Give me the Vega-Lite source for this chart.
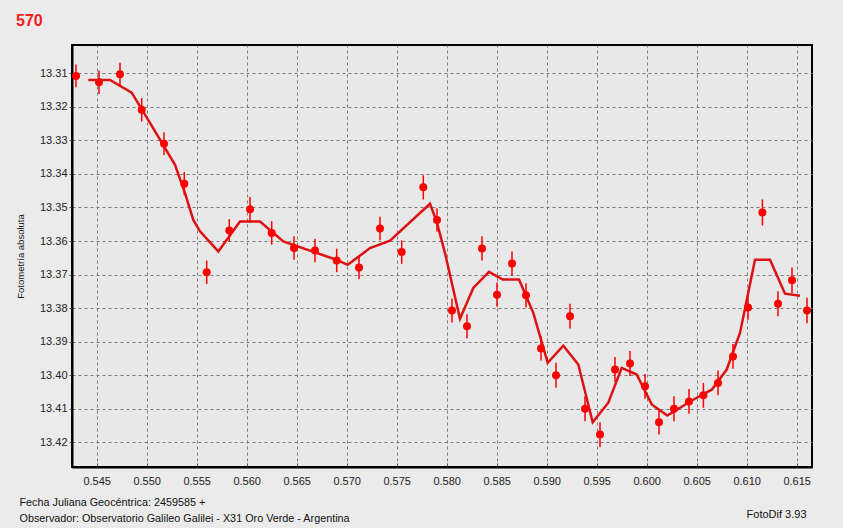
{
  "$schema": "https://vega.github.io/schema/vega-lite/v6.json",
  "autosize": "none",
  "width": 740,
  "height": 422,
  "padding": {"left": 72, "top": 45, "right": 31, "bottom": 61},
  "background": "#ebebeb",
  "config": {
    "font": "Liberation Sans",
    "view": {"stroke": "#000000", "strokeWidth": 2, "fill": "#e8e8e8"}
  },
  "title": {
    "text": "570",
    "anchor": "start",
    "frame": "group",
    "dx": -56,
    "dy": 16,
    "offset": 19,
    "baseline": "alphabetic",
    "fontSize": 16,
    "fontWeight": "bold",
    "color": "#ee1c1c",
    "font": "Liberation Sans"
  },
  "datasets": {
    "obs": [
      {"jd": 0.54293, "mag": 13.3108, "err": 0.0034},
      {"jd": 0.54523, "mag": 13.3127, "err": 0.0035},
      {"jd": 0.54733, "mag": 13.3103, "err": 0.0034},
      {"jd": 0.5495, "mag": 13.3209, "err": 0.0035},
      {"jd": 0.55173, "mag": 13.331, "err": 0.0034},
      {"jd": 0.55376, "mag": 13.3429, "err": 0.0035},
      {"jd": 0.556, "mag": 13.3693, "err": 0.0035},
      {"jd": 0.55826, "mag": 13.3569, "err": 0.0034},
      {"jd": 0.56033, "mag": 13.3505, "err": 0.0036},
      {"jd": 0.5625, "mag": 13.3576, "err": 0.0035},
      {"jd": 0.56473, "mag": 13.3621, "err": 0.0035},
      {"jd": 0.56683, "mag": 13.3628, "err": 0.0035},
      {"jd": 0.569, "mag": 13.3658, "err": 0.0035},
      {"jd": 0.57123, "mag": 13.3679, "err": 0.0034},
      {"jd": 0.57333, "mag": 13.3563, "err": 0.0035},
      {"jd": 0.5755, "mag": 13.3633, "err": 0.0035},
      {"jd": 0.57766, "mag": 13.344, "err": 0.0036},
      {"jd": 0.57903, "mag": 13.3537, "err": 0.0035},
      {"jd": 0.58053, "mag": 13.3807, "err": 0.0036},
      {"jd": 0.58203, "mag": 13.3854, "err": 0.0036},
      {"jd": 0.58353, "mag": 13.3622, "err": 0.0036},
      {"jd": 0.58503, "mag": 13.376, "err": 0.0036},
      {"jd": 0.58653, "mag": 13.3667, "err": 0.0036},
      {"jd": 0.58793, "mag": 13.3762, "err": 0.0036},
      {"jd": 0.58943, "mag": 13.392, "err": 0.0036},
      {"jd": 0.59093, "mag": 13.4, "err": 0.0037},
      {"jd": 0.59233, "mag": 13.3824, "err": 0.0037},
      {"jd": 0.59383, "mag": 13.41, "err": 0.0037},
      {"jd": 0.59533, "mag": 13.4177, "err": 0.0037},
      {"jd": 0.59683, "mag": 13.3983, "err": 0.0037},
      {"jd": 0.59833, "mag": 13.3965, "err": 0.0037},
      {"jd": 0.59983, "mag": 13.4033, "err": 0.0037},
      {"jd": 0.60123, "mag": 13.414, "err": 0.0037},
      {"jd": 0.60273, "mag": 13.41, "err": 0.0037},
      {"jd": 0.60423, "mag": 13.4078, "err": 0.0037},
      {"jd": 0.60567, "mag": 13.406, "err": 0.0037},
      {"jd": 0.60713, "mag": 13.4023, "err": 0.0037},
      {"jd": 0.60863, "mag": 13.3944, "err": 0.0037},
      {"jd": 0.61013, "mag": 13.3798, "err": 0.0037},
      {"jd": 0.61157, "mag": 13.3515, "err": 0.0039},
      {"jd": 0.61313, "mag": 13.3787, "err": 0.0037},
      {"jd": 0.61453, "mag": 13.3717, "err": 0.0038},
      {"jd": 0.61603, "mag": 13.3807, "err": 0.0038}
    ],
    "fit": [
      {"jd": 0.54416, "mag": 13.312},
      {"jd": 0.54633, "mag": 13.312},
      {"jd": 0.5485, "mag": 13.3158},
      {"jd": 0.55066, "mag": 13.3264},
      {"jd": 0.55283, "mag": 13.3373},
      {"jd": 0.55383, "mag": 13.3457},
      {"jd": 0.55466, "mag": 13.3537},
      {"jd": 0.55533, "mag": 13.3571},
      {"jd": 0.55716, "mag": 13.3631},
      {"jd": 0.55933, "mag": 13.3542},
      {"jd": 0.56133, "mag": 13.3542},
      {"jd": 0.56366, "mag": 13.3601},
      {"jd": 0.56683, "mag": 13.3634},
      {"jd": 0.569, "mag": 13.3656},
      {"jd": 0.5701, "mag": 13.3671},
      {"jd": 0.57233, "mag": 13.3621},
      {"jd": 0.57433, "mag": 13.3599},
      {"jd": 0.57833, "mag": 13.3489},
      {"jd": 0.579, "mag": 13.3542},
      {"jd": 0.57983, "mag": 13.3636},
      {"jd": 0.58133, "mag": 13.3832},
      {"jd": 0.58266, "mag": 13.374},
      {"jd": 0.58423, "mag": 13.3692},
      {"jd": 0.5856, "mag": 13.3715},
      {"jd": 0.58723, "mag": 13.3715},
      {"jd": 0.58866, "mag": 13.3814},
      {"jd": 0.5901, "mag": 13.3963},
      {"jd": 0.59166, "mag": 13.3912},
      {"jd": 0.59316, "mag": 13.3968},
      {"jd": 0.5946, "mag": 13.414},
      {"jd": 0.59616, "mag": 13.4082},
      {"jd": 0.5975, "mag": 13.3978},
      {"jd": 0.599, "mag": 13.3998},
      {"jd": 0.6005, "mag": 13.4087},
      {"jd": 0.60206, "mag": 13.412},
      {"jd": 0.60333, "mag": 13.4097},
      {"jd": 0.605, "mag": 13.4067},
      {"jd": 0.6065, "mag": 13.4043},
      {"jd": 0.608, "mag": 13.3983},
      {"jd": 0.60933, "mag": 13.3874},
      {"jd": 0.61083, "mag": 13.3656},
      {"jd": 0.61233, "mag": 13.3656},
      {"jd": 0.61383, "mag": 13.3757},
      {"jd": 0.61533, "mag": 13.3763}
    ]
  },
  "resolve": {"axis": {"y": "independent"}},
  "layer": [
    {
      "data": {"name": "fit"},
      "mark": {"type": "line", "color": "#dd1111", "strokeWidth": 2.5},
      "encoding": {
        "x": {
          "field": "jd",
          "type": "quantitative",
          "scale": {"domain": [0.54253, 0.61653], "zero": false, "nice": false},
          "axis": {
            "values": [0.545, 0.5475, 0.55, 0.5525, 0.555, 0.5575, 0.56, 0.5625, 0.565, 0.5675, 0.57, 0.5725, 0.575, 0.5775, 0.58, 0.5825, 0.585, 0.5875, 0.59, 0.5925, 0.595, 0.5975, 0.6, 0.6025, 0.605, 0.6075, 0.61, 0.6125, 0.615],
            "format": ".3f",
            "labelExpr": "round(datum.value * 10000) % 50 == 0 ? datum.label : ''",
            "labelFlush": false,
            "labelOverlap": false,
            "labelFontSize": 11,
            "labelColor": "#222222",
            "labelPadding": 12,
            "tickSize": -4,
            "tickColor": "#555555",
            "domainColor": "#000000",
            "domainWidth": 2,
            "grid": true,
            "gridColor": "#7a7a7a",
            "gridDash": [3, 3],
            "gridOpacity": {"condition": {"test": "round(datum.value * 10000) % 50 == 0", "value": 1}, "value": 0},
            "title": ["Fecha Juliana Geocéntrica: 2459585 +", "Observador: Observatorio Galileo Galilei - X31 Oro Verde - Argentina"],
            "titleFontSize": 10.8,
            "titleFontWeight": "normal",
            "titleColor": "#111111",
            "titleAlign": "left",
            "titleAnchor": "start",
            "titleBaseline": "alphabetic",
            "titleLineHeight": 16,
            "titleX": -53,
            "titleY": 38
          }
        },
        "y": {
          "field": "mag",
          "type": "quantitative",
          "scale": {"domain": [13.30158, 13.42735], "reverse": true, "zero": false, "nice": false},
          "axis": {
            "values": [13.31, 13.32, 13.33, 13.34, 13.35, 13.36, 13.37, 13.38, 13.39, 13.4, 13.41, 13.42],
            "format": ".2f",
            "labelFontSize": 11,
            "labelColor": "#222222",
            "labelPadding": 2,
            "tickSize": 3,
            "tickColor": "#555555",
            "domainColor": "#000000",
            "domainWidth": 2,
            "grid": true,
            "gridColor": "#7a7a7a",
            "gridDash": [3, 3],
            "title": "Fotometría absoluta",
            "titleFontSize": 9.5,
            "titleFontWeight": "normal",
            "titleColor": "#111111",
            "titlePadding": 14
          }
        }
      }
    },
    {
      "data": {"name": "obs"},
      "mark": {"type": "errorbar", "color": "#ff0000", "thickness": 1.5},
      "encoding": {
        "x": {"field": "jd", "type": "quantitative", "scale": {"domain": [0.54253, 0.61653], "zero": false, "nice": false}},
        "y": {"field": "mag", "type": "quantitative", "scale": {"domain": [13.30158, 13.42735], "reverse": true, "zero": false, "nice": false}, "axis": null},
        "yError": {"field": "err"}
      }
    },
    {
      "data": {"name": "obs"},
      "mark": {"type": "circle", "color": "#ff0000", "opacity": 1, "size": 64},
      "encoding": {
        "x": {"field": "jd", "type": "quantitative", "scale": {"domain": [0.54253, 0.61653], "zero": false, "nice": false}},
        "y": {
          "field": "mag",
          "type": "quantitative",
          "scale": {"domain": [13.30158, 13.42735], "reverse": true, "zero": false, "nice": false},
          "axis": {
            "orient": "right",
            "labels": false,
            "ticks": false,
            "domain": false,
            "grid": false,
            "title": "FotoDif 3.93",
            "titleAngle": 0,
            "titleFontSize": 11,
            "titleFontWeight": "normal",
            "titleColor": "#111111",
            "titleAlign": "right",
            "titleBaseline": "alphabetic",
            "titleX": -6,
            "titleY": 472
          }
        }
      }
    }
  ]
}
